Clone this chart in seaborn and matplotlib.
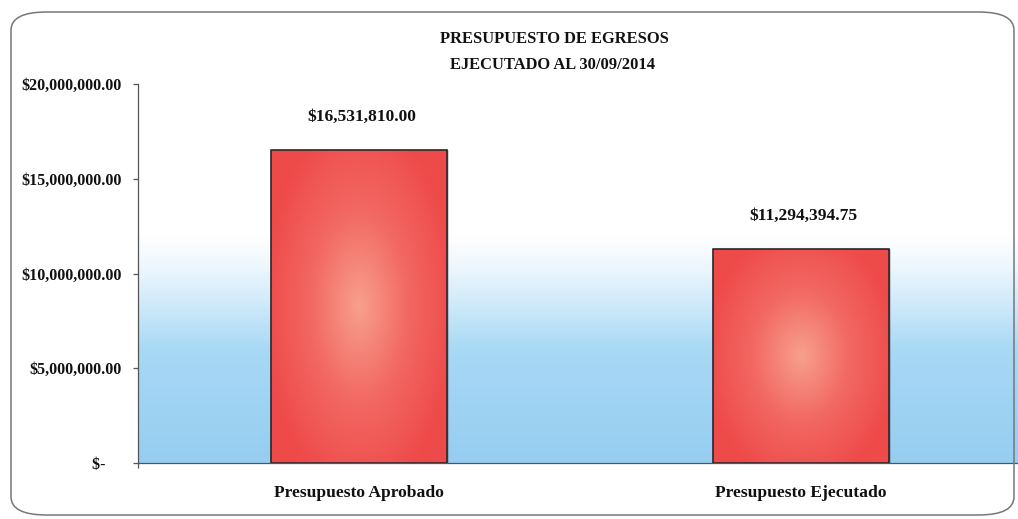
import numpy as np
import pandas as pd
import matplotlib
matplotlib.use("Agg")
import matplotlib.pyplot as plt
from matplotlib.patches import FancyBboxPatch
from matplotlib.colors import LinearSegmentedColormap
import seaborn as sns

categories = ["Presupuesto Aprobado", "Presupuesto Ejecutado"]
values = [16531810.00, 11294394.75]
value_labels = ["$16,531,810.00", "$11,294,394.75"]
yticks = [0, 5000000, 10000000, 15000000, 20000000]
ytick_labels = ["$-    ", "$5,000,000.00", "$10,000,000.00", "$15,000,000.00", "$20,000,000.00"]
title_lines = ["PRESUPUESTO DE EGRESOS", "EJECUTADO AL 30/09/2014"]

sns.set_theme(style="white")
plt.rcParams["font.family"] = ["Liberation Serif", "DejaVu Serif"]

W, H = 1018, 519
fig = plt.figure(figsize=(W / 100, H / 100), dpi=100)
fig.patch.set_facecolor("white")

left, right, top, bottom = 138, 1022, 84, 463
ax = fig.add_axes([left / W, 1 - bottom / H, (right - left) / W, (bottom - top) / H])
ax.set_facecolor("none")
ax.set_zorder(1)

# rounded frame
fx0, fx1, fy0, fy1 = 11, 1014, 12, 515
frame = FancyBboxPatch((fx0 / W, 1 - fy1 / H), (fx1 - fx0) / W, (fy1 - fy0) / H,
                       boxstyle="round,pad=0,rounding_size=0.035",
                       transform=fig.transFigure, facecolor="none",
                       edgecolor="#777777", linewidth=1.1, zorder=5)
fig.patches.append(frame)

df = pd.DataFrame({"cat": categories, "val": values})
sns.barplot(data=df, x="cat", y="val", ax=ax, color="#ee4444", width=0.4,
            edgecolor="#222222", linewidth=1.0, saturation=1, zorder=3)

ax.set_xlim(-0.5, 1.5)
ax.set_ylim(0, 20000000)

# background gradient (white top -> light blue bottom)
bg_cmap = LinearSegmentedColormap.from_list(
    "bg", [(0.0, "#96cdf1"), (0.30, "#a8d9f5"), (0.40, "#c9e7f9"),
           (0.52, "#eef7fd"), (0.60, "#ffffff"), (1.0, "#ffffff")])
grad = np.linspace(0, 1, 256).reshape(-1, 1)
ax.imshow(grad, cmap=bg_cmap, aspect="auto", origin="lower",
          extent=(0, 1, 0, 1), transform=ax.transAxes, zorder=0)

# radial gradient on bars
bar_cmap = LinearSegmentedColormap.from_list(
    "bar", [(0.0, "#f7a08c"), (0.5, "#f26862"), (1.0, "#ee4a4a")])
for p in list(ax.patches):
    x0, y0 = p.get_x(), p.get_y()
    w, h = p.get_width(), p.get_height()
    yy, xx = np.mgrid[-1:1:200j, -1:1:200j]
    r = np.sqrt(xx ** 2 + (yy * 0.9) ** 2) / 1.1
    im = ax.imshow(np.clip(r, 0, 1), cmap=bar_cmap, vmin=0, vmax=1,
                   aspect="auto", origin="lower",
                   extent=(x0, x0 + w, y0, y0 + h), zorder=3.5)
    im.set_clip_path(p)
    ax.add_patch(plt.Rectangle((x0, y0), w, h, fill=False,
                               edgecolor="#222222", linewidth=1.1, zorder=4))

ax.set_xlim(-0.5, 1.5)
ax.set_ylim(0, 20000000)

# value labels
for i, (v, lab) in enumerate(zip(values, value_labels)):
    ax.annotate(lab, (i, v), xytext=(2, 23.5), textcoords="offset points",
                ha="center", va="center", fontsize=12.6, fontweight="bold",
                color="#111111", zorder=5)

ax.set_yticks(yticks)
ax.set_yticklabels(ytick_labels, fontsize=11.5, fontweight="bold", color="#111111")
ax.set_xticks(range(len(categories)))
ax.set_xticklabels(categories, fontsize=12.6, fontweight="bold", color="#111111")
ax.set_xticks([-0.5], minor=True)
ax.set_xlabel("")
ax.set_ylabel("")

for s in ["top", "right"]:
    ax.spines[s].set_visible(False)
for s in ["left", "bottom"]:
    ax.spines[s].set_visible(True)
    ax.spines[s].set_color("#555555")
    ax.spines[s].set_linewidth(0.9)
    ax.spines[s].set_zorder(6)

ax.tick_params(axis="y", which="major", direction="out", length=3.6, width=0.9,
               color="#555555", pad=8, left=True)
ax.tick_params(axis="x", which="major", length=0, pad=16)
ax.tick_params(axis="x", which="minor", direction="out", length=3.6, width=0.9,
               color="#555555", bottom=True)

fig.text(554 / W, 1 - 39 / H, title_lines[0], ha="center", va="center",
         fontsize=11.9, fontweight="bold", color="#111111")
fig.text(553 / W, 1 - 65 / H, title_lines[1], ha="center", va="center",
         fontsize=11.9, fontweight="bold", color="#111111")

fig.savefig("out.png", dpi=100)
